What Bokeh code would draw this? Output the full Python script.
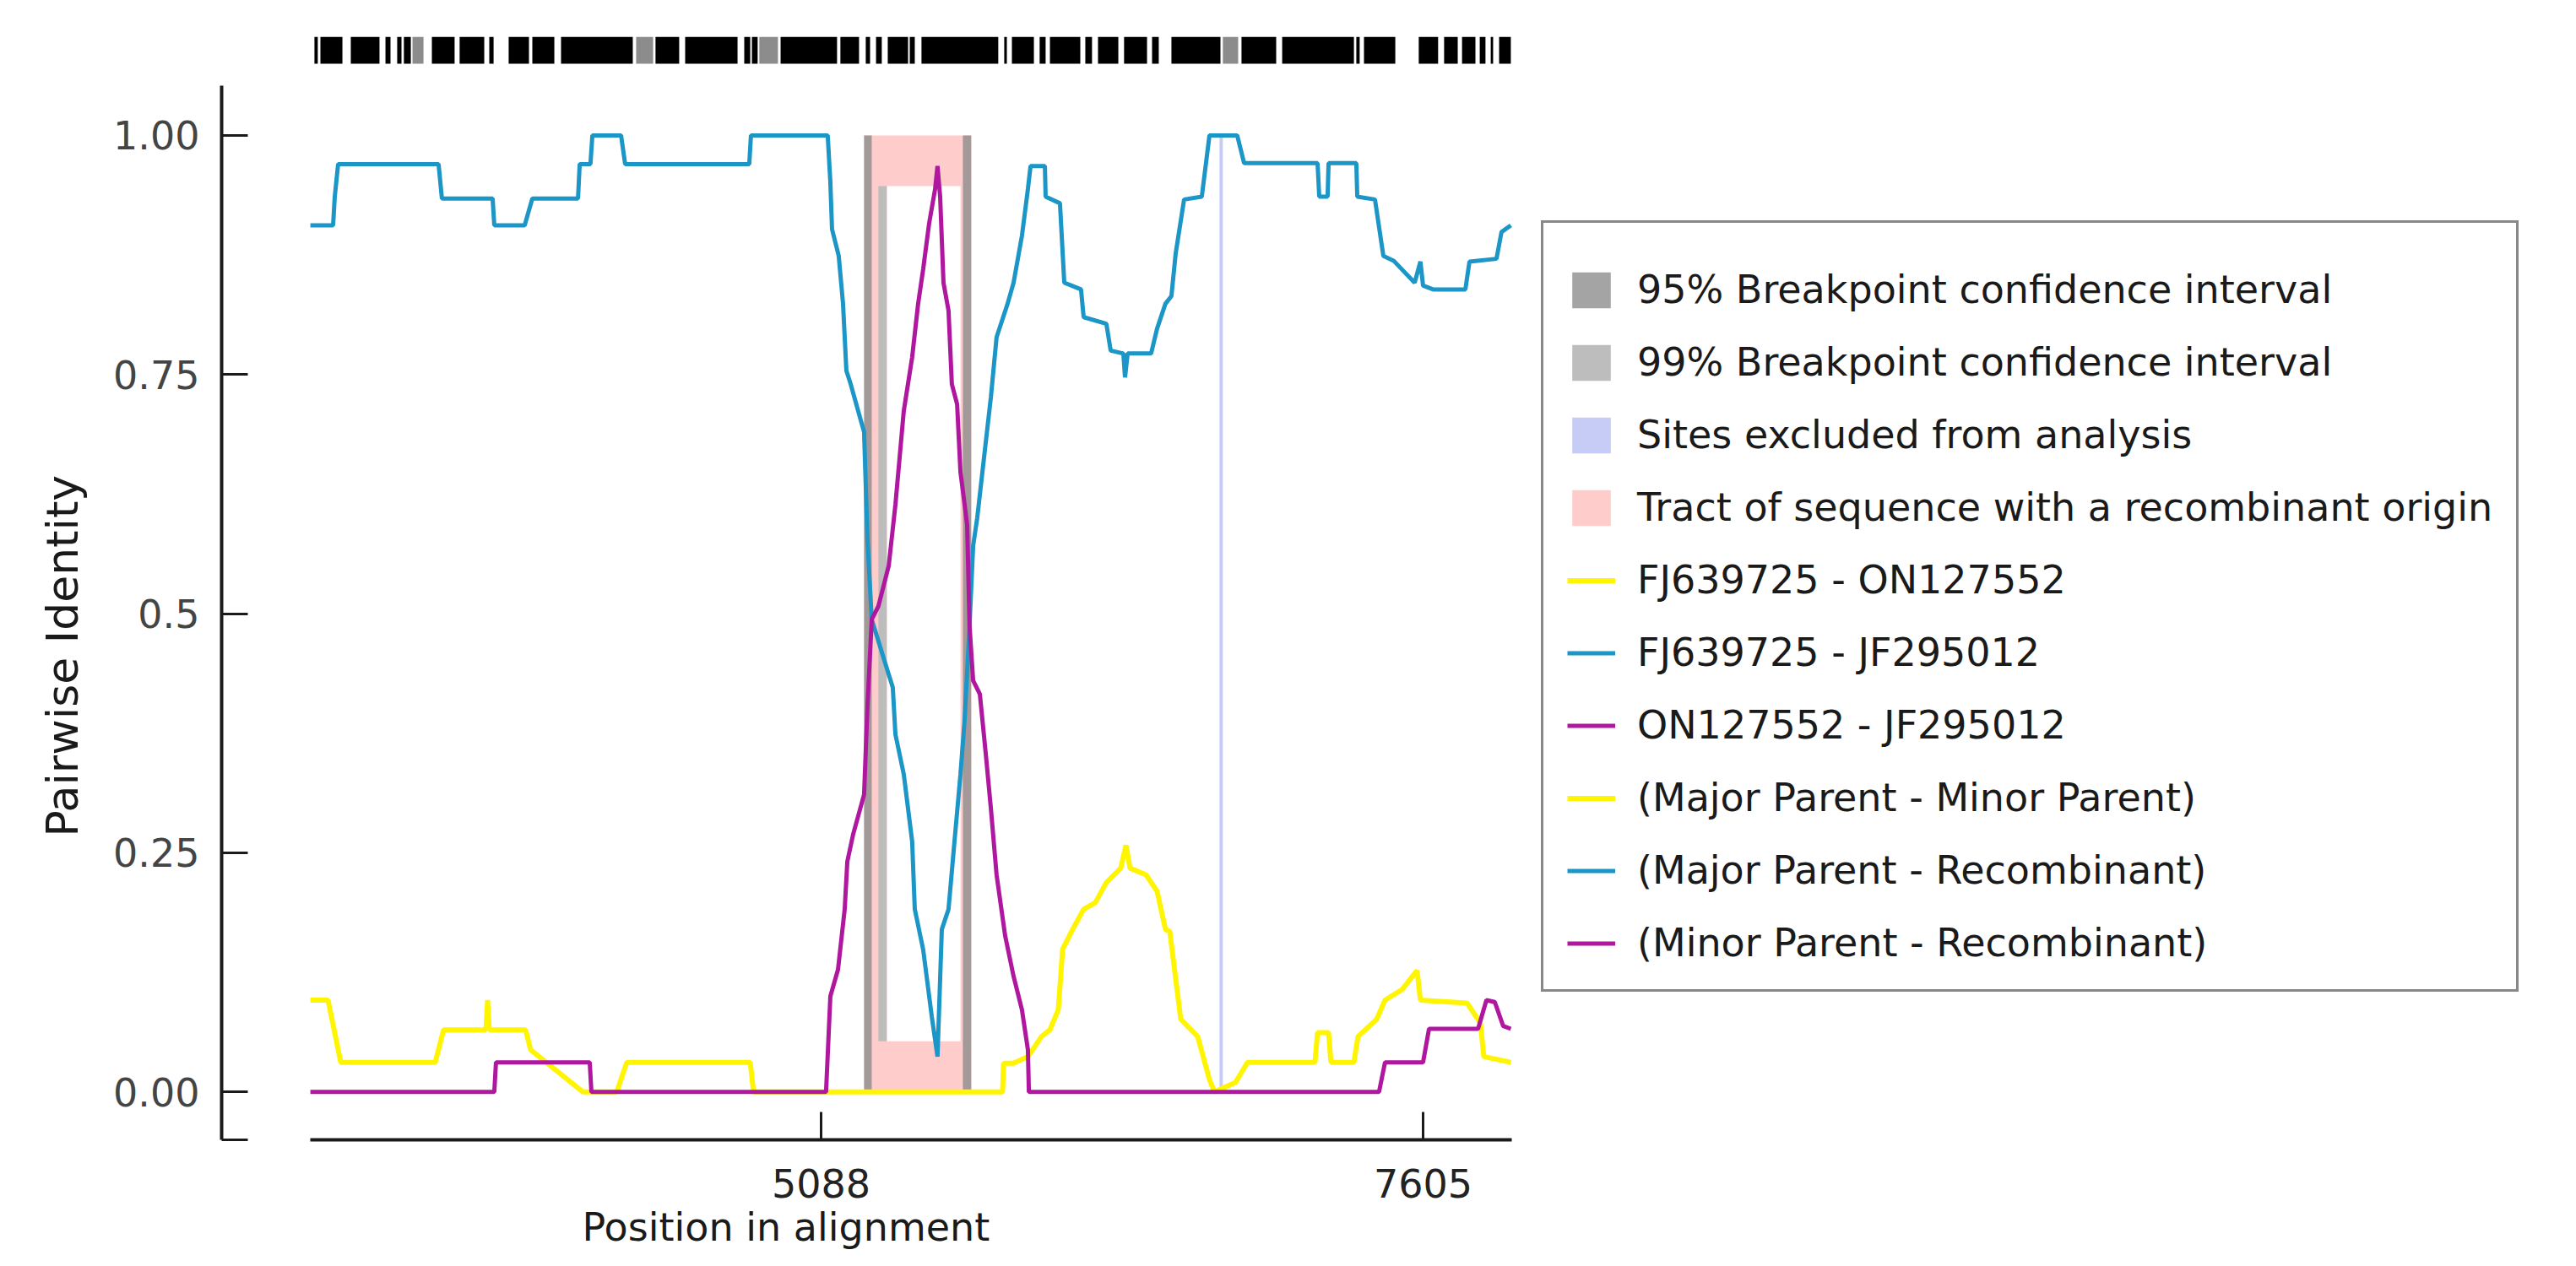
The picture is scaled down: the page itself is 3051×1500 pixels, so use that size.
from bokeh.plotting import figure
from bokeh.models import FixedTicker, Legend, LegendItem, Title, Range1d
from bokeh.embed import file_html
from bokeh.resources import INLINE

# ---------------- data ----------------
x_ticks = [5088, 7605]
y_ticks = [0.0, 0.25, 0.5, 0.75, 1.0]
y_tick_labels = ["0.00", "0.25", "0.5", "0.75", "1.00"]
window_start, window_end = 2953, 7976

# FJ639725 - ON127552 (Major Parent - Minor Parent)
yellow_pos = [2953, 3027, 3080, 3475, 3510, 3687, 3694, 3701, 3853, 3874,
              4093, 4234, 4276, 4792, 4806, 5847, 5851, 5893, 5953, 6010,
              6045, 6080, 6098, 6140, 6186, 6235, 6281, 6341, 6363, 6380,
              6447, 6493, 6528, 6546, 6592, 6663, 6712, 6733, 6821, 6871,
              7153, 7164, 7210, 7220, 7316, 7333, 7411, 7446, 7517, 7580,
              7594, 7789, 7845, 7859, 7972]
yellow_id = [0.096, 0.096, 0.031, 0.031, 0.065, 0.065, 0.096, 0.065, 0.065, 0.044,
             0.0, 0.0, 0.031, 0.031, 0.0, 0.0, 0.030, 0.030, 0.037, 0.058,
             0.065, 0.086, 0.149, 0.170, 0.191, 0.198, 0.219, 0.234, 0.258, 0.234,
             0.227, 0.210, 0.170, 0.168, 0.076, 0.058, 0.013, 0.0, 0.010, 0.031,
             0.031, 0.062, 0.062, 0.031, 0.031, 0.058, 0.076, 0.096, 0.107, 0.127,
             0.096, 0.093, 0.072, 0.037, 0.031]

# FJ639725 - JF295012 (Major Parent - Recombinant)
blue_pos = [2953, 3048, 3055, 3069, 3489, 3503, 3715, 3722, 3849, 3881,
            4072, 4079, 4124, 4132, 4252, 4269, 4788, 4795, 5116, 5127,
            5134, 5162, 5180, 5194, 5212, 5251, 5268, 5282, 5300, 5353,
            5388, 5399, 5434, 5469, 5480, 5515, 5551, 5575, 5593, 5621,
            5646, 5671, 5688, 5706, 5724, 5741, 5769, 5798, 5822, 5868,
            5893, 5928, 5953, 5964, 6024, 6027, 6087, 6105, 6175, 6186,
            6281, 6299, 6352, 6359, 6370, 6468, 6493, 6528, 6553, 6571,
            6606, 6680, 6712, 6828, 6857, 7164, 7171, 7206, 7210, 7326,
            7330, 7404, 7439, 7482, 7570, 7594, 7605, 7647, 7782, 7799,
            7912, 7933, 7972]
blue_id = [0.906, 0.906, 0.936, 0.970, 0.970, 0.934, 0.934, 0.906, 0.906, 0.934,
           0.934, 0.970, 0.970, 1.0, 1.0, 0.970, 0.970, 1.0, 1.0, 0.951,
           0.902, 0.874, 0.824, 0.754, 0.740, 0.705, 0.690, 0.578, 0.494, 0.451,
           0.423, 0.374, 0.332, 0.262, 0.191, 0.149, 0.079, 0.037, 0.170, 0.191,
           0.262, 0.332, 0.388, 0.472, 0.571, 0.600, 0.662, 0.726, 0.789, 0.824,
           0.846, 0.895, 0.944, 0.968, 0.968, 0.936, 0.929, 0.846, 0.839, 0.810,
           0.803, 0.775, 0.772, 0.747, 0.772, 0.772, 0.798, 0.824, 0.832, 0.877,
           0.933, 0.936, 1.0, 1.0, 0.971, 0.971, 0.936, 0.936, 0.971, 0.971,
           0.936, 0.933, 0.874, 0.869, 0.846, 0.868, 0.843, 0.839, 0.839, 0.868,
           0.871, 0.899, 0.906]

# ON127552 - JF295012 (Minor Parent - Recombinant)
magenta_pos = [2953, 3722, 3729, 4121, 4128, 5109, 5127, 5159, 5187, 5198,
               5222, 5268, 5282, 5300, 5328, 5371, 5399, 5434, 5469, 5494,
               5515, 5540, 5565, 5575, 5586, 5600, 5621, 5635, 5657, 5671,
               5699, 5709, 5724, 5752, 5777, 5798, 5822, 5858, 5893, 5928,
               5953, 5957, 7421, 7446, 7605, 7630, 7835, 7870, 7905, 7940,
               7972]
magenta_id = [0.0, 0.0, 0.031, 0.031, 0.0, 0.0, 0.100, 0.128, 0.191, 0.241,
              0.269, 0.311, 0.402, 0.494, 0.508, 0.550, 0.614, 0.712, 0.768, 0.824,
              0.860, 0.908, 0.944, 0.968, 0.936, 0.846, 0.817, 0.740, 0.719, 0.648,
              0.593, 0.487, 0.430, 0.416, 0.353, 0.297, 0.227, 0.163, 0.121, 0.086,
              0.044, 0.0, 0.0, 0.031, 0.031, 0.066, 0.066, 0.096, 0.094, 0.069,
              0.066]

# shaded regions
tract_start, tract_end = [5268], [5716]
tract_gap_start, tract_gap_end = [5363], [5671]
tract_gap_low, tract_gap_high = [0.053], [0.947]
ci95_start, ci95_end = [5268, 5681], [5300, 5716]
ci95_low, ci95_high = [0.0, 0.0], [1.0, 1.0]
ci99_start, ci99_end = [5328], [5363]
ci99_low, ci99_high = [0.053], [0.947]
excluded_start, excluded_end = [6754], [6768]

# informative sites (top bar)
site_start = [2970, 2995, 3122, 3267, 3316, 3344, 3461, 3577, 3701, 3782,
              3881, 4001, 4396, 4520, 4767, 4799, 4919, 5169, 5275, 5318,
              5367, 5459, 5508, 5854, 5886, 6002, 6045, 6193, 6246, 6355,
              6472, 6553, 6846, 7016, 7326, 7358, 7587, 7693, 7768, 7842,
              7888, 7923]
site_end = [2984, 3087, 3242, 3288, 3334, 3373, 3556, 3680, 3719, 3867,
            3973, 4301, 4495, 4739, 4792, 4823, 5155, 5247, 5293, 5342,
            5452, 5480, 5829, 5865, 5978, 6027, 6172, 6221, 6331, 6451,
            6500, 6758, 6991, 7316, 7340, 7489, 7668, 7750, 7824, 7866,
            7898, 7972]
sparse_site_start = [3380, 4315, 4830, 6768]
sparse_site_end = [3426, 4386, 4908, 6832]

# ---------------- styling constants ----------------
FONT = "DejaVu Sans"
YELLOW = "#FFF500"
BLUE = "#1B96C6"
MAGENTA = "#B0179F"
PINK = "#FFCCCC"
GREY95 = "#8A8A8A"
GREY99 = "#BDBDBD"
EXCL = "#C6CCF6"
Y0, Y1 = -0.05, 1.1058
X0, X1 = 2582, 12353
BAR_LO, BAR_HI = 1.075, 1.103

p = figure(width=3036, height=1496, output_backend="svg", toolbar_location=None,
           x_range=Range1d(X0, X1), y_range=Range1d(Y0, Y1),
           min_border_left=262, min_border_right=6, min_border_top=40,
           min_border_bottom=146)
p.outline_line_color = None
p.xgrid.visible = False
p.ygrid.visible = False
p.background_fill_color = "white"

# shaded regions
r_tract = p.quad(left=tract_start, right=tract_end, bottom=[0.0], top=[1.0],
                 fill_color=PINK, line_color=None)
p.quad(left=tract_gap_start, right=tract_gap_end, bottom=tract_gap_low, top=tract_gap_high,
       fill_color="white", line_color=None)
r_ci99 = p.quad(left=ci99_start, right=ci99_end, bottom=ci99_low, top=ci99_high,
                fill_color=GREY99, line_color=None)
r_ci95 = p.quad(left=ci95_start, right=ci95_end, bottom=ci95_low, top=ci95_high,
                fill_color=GREY95, fill_alpha=0.78, line_color=None)
r_excl = p.quad(left=excluded_start, right=excluded_end, bottom=[0.0], top=[1.0],
                fill_color=EXCL, line_color=None)

# informative sites bar
p.quad(left=site_start, right=site_end, bottom=BAR_LO, top=BAR_HI,
       fill_color="black", line_color=None)
p.quad(left=sparse_site_start, right=sparse_site_end, bottom=BAR_LO, top=BAR_HI,
       fill_color="#8C8C8C", line_color=None)

# identity lines
r_y = p.line(yellow_pos, yellow_id, line_color=YELLOW, line_width=6)
r_b = p.line(blue_pos, blue_id, line_color=BLUE, line_width=5)
r_m = p.line(magenta_pos, magenta_id, line_color=MAGENTA, line_width=5)

# axes
xa = p.xaxis[0]
xa.ticker = FixedTicker(ticks=x_ticks)
xa.bounds = (window_start, window_end)
xa.minor_tick_line_color = None
xa.major_tick_in = 33
xa.major_tick_out = 0
xa.major_tick_line_width = 3
xa.major_tick_line_color = "#1a1a1a"
xa.axis_line_width = 4
xa.axis_line_color = "#1a1a1a"
xa.major_label_text_font = FONT
xa.major_label_text_font_size = "46px"
xa.major_label_text_color = "#222222"
xa.major_label_standoff = 34

ya = p.yaxis[0]
ya.ticker = FixedTicker(ticks=[Y0] + y_ticks)
overrides = {Y0: ""}
for t, lab in zip(y_ticks, y_tick_labels):
    overrides[t] = lab
ya.major_label_overrides = overrides
ya.bounds = (Y0, 1.052)
ya.minor_tick_line_color = None
ya.major_tick_in = 31
ya.major_tick_out = 0
ya.major_tick_line_width = 3
ya.major_tick_line_color = "#1a1a1a"
ya.axis_line_width = 4
ya.axis_line_color = "#1a1a1a"
ya.major_label_text_font = FONT
ya.major_label_text_font_size = "46px"
ya.major_label_text_color = "#444444"
ya.major_label_standoff = 26

# axis titles
p.add_layout(Title(text="Position in alignment", align="left", offset=427, standoff=6,
                   text_font=FONT, text_font_size="46px", text_font_style="normal",
                   text_color="#1a1a1a"), "below")
p.add_layout(Title(text="Pairwise Identity", align="left", offset=359, standoff=55,
                   text_font=FONT, text_font_size="52px", text_font_style="normal",
                   text_color="#1a1a1a"), "left")

# legend
items = [
    LegendItem(label="95% Breakpoint confidence interval", renderers=[r_ci95]),
    LegendItem(label="99% Breakpoint confidence interval", renderers=[r_ci99]),
    LegendItem(label="Sites excluded from analysis", renderers=[r_excl]),
    LegendItem(label="Tract of sequence with a recombinant origin", renderers=[r_tract]),
    LegendItem(label="FJ639725 - ON127552", renderers=[r_y]),
    LegendItem(label="FJ639725 - JF295012", renderers=[r_b]),
    LegendItem(label="ON127552 - JF295012", renderers=[r_m]),
    LegendItem(label="(Major Parent - Minor Parent)", renderers=[r_y]),
    LegendItem(label="(Major Parent - Recombinant)", renderers=[r_b]),
    LegendItem(label="(Minor Parent - Recombinant)", renderers=[r_m]),
]
legend = Legend(items=items, location=(1563, 175), margin=0,
                border_line_color="#111111", border_line_width=3,
                padding=28, spacing=32, glyph_width=57, glyph_height=53,
                label_height=54, label_standoff=26,
                label_text_font=FONT, label_text_font_size="46px",
                label_text_color="#1a1a1a",
                title=" ", title_text_font_size="16px", title_standoff=6,
                background_fill_color="white", background_fill_alpha=1.0)
p.add_layout(legend, "center")

open("out.html", "w").write(file_html(p, INLINE))
